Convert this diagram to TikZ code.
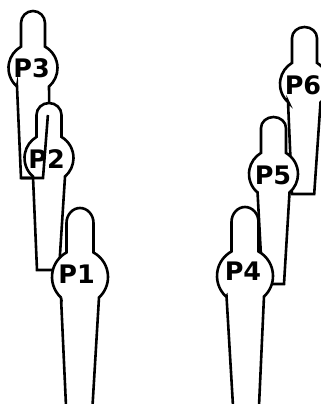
\documentclass[tikz,border=0pt]{standalone}
\usepackage{fontspec}
\setmainfont{DejaVu Sans}
\tikzset{
  outline/.style={draw=black,line width=2.6pt,fill=white,line join=miter},
  strokeonly/.style={draw=black,line width=2.6pt,line join=miter},
  tag/.style={inner sep=0pt,font=\fontsize{25.5pt}{25.5pt}\selectfont\bfseries}
}
% #1 cx, #2 cy (y up), #3 r, #4 head half width, #5 head start above centre,
% #6 top above centre, #7 shoulder angle, #8 neck angle, #9 lower body points
\newcommand{\figureoutline}[9]{%
  \begin{scope}[shift={(#1,#2)}]
    \draw[outline] (180+#8:#3) arc[start angle=180+#8,end angle=180-#7,radius=#3]
      -- (-#4,#5) arc[start angle=180,end angle=0,x radius=#4,y radius=#6-#5]
      -- (#7:#3) arc[start angle=#7,end angle=-#8,radius=#3] #9;
  \end{scope}}
\begin{document}
\begin{tikzpicture}[x=1pt,y=1pt]
\useasboundingbox (0,0) rectangle (321,404);
\clip (0,0) rectangle (321,404);
% P3 (y = 404 - image y)
\figureoutline{33}{336}{24.5}{12}{45}{57}{60.7}{49.2}{-- (17,-110) -- (-12,-110) -- (-16,-18.5) -- cycle}
% P2
\figureoutline{49}{246}{24.5}{12.5}{43}{55}{59.3}{49.2}{-- (10,-112) -- (-12,-112) -- (-16,-19) -- cycle}
\coordinate (p3a) at (47.9,289);
\coordinate (p3b) at (43,226);
\coordinate (p3c) at (21,226);
\draw[strokeonly] (p3a) -- (p3b) -- (p3c);
% P1
\figureoutline{80}{127}{28}{13.5}{54}{69}{61.2}{47.3}{-- (12.5,-129) -- (-14,-129) -- (-19,-20.5) -- cycle}
% P6
\figureoutline{304.5}{320}{24.5}{12.5}{46}{57}{59.3}{49.2}{-- (9.7,-110) -- (-12.5,-110) -- (-16.5,-17.5) -- cycle}
% P5
\figureoutline{273.5}{230}{24.5}{12.5}{46}{57}{59.3}{49.2}{-- (10.5,-110) -- (-11,-110) -- (-16,-17.5) -- cycle}
% P4
\figureoutline{245}{128}{28}{13.5}{54}{69}{61.2}{47.3}{-- (14,-130) -- (-12,-130) -- (-18.5,-20) -- cycle}
\node[tag] (p1) at (76.7,130) {P1};
\node[tag] (p2) at (46.7,245) {P2};
\node[tag] (p3) at (31.7,336) {P3};
\node[tag] (p4) at (243,133) {P4};
\node[tag] (p5) at (273,229) {P5};
\node[tag] (p6) at (303,319) {P6};
\end{tikzpicture}
\end{document}
